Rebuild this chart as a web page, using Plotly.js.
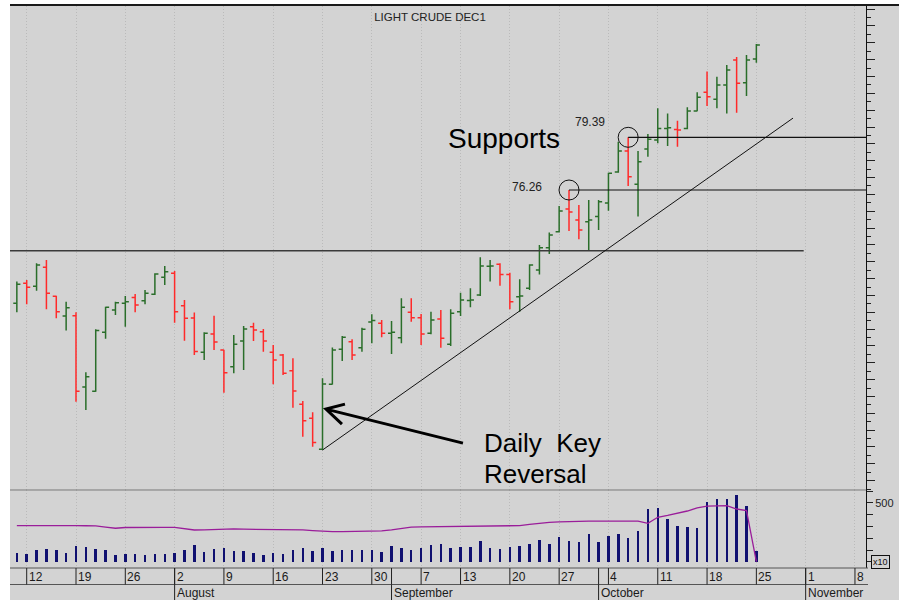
<!DOCTYPE html>
<html>
<head>
<meta charset="utf-8">
<script src="https://cdn.plot.ly/plotly-3.0.1.min.js"></script>
<style>
  html, body { margin: 0; padding: 0; background: #ffffff; }
  #chart { width: 899px; height: 600px; }
</style>
</head>
<body>
<div id="chart"></div>
<script>
// ---------------- DATA ----------------
const dates = [
  '2021-07-09',
  '2021-07-12','2021-07-13','2021-07-14','2021-07-15','2021-07-16',
  '2021-07-19','2021-07-20','2021-07-21','2021-07-22','2021-07-23',
  '2021-07-26','2021-07-27','2021-07-28','2021-07-29','2021-07-30',
  '2021-08-02','2021-08-03','2021-08-04','2021-08-05','2021-08-06',
  '2021-08-09','2021-08-10','2021-08-11','2021-08-12','2021-08-13',
  '2021-08-16','2021-08-17','2021-08-18','2021-08-19','2021-08-20',
  '2021-08-23','2021-08-24','2021-08-25','2021-08-26','2021-08-27',
  '2021-08-30','2021-08-31','2021-09-01','2021-09-02','2021-09-03',
  '2021-09-07','2021-09-08','2021-09-09','2021-09-10',
  '2021-09-13','2021-09-14','2021-09-15','2021-09-16','2021-09-17',
  '2021-09-20','2021-09-21','2021-09-22','2021-09-23','2021-09-24',
  '2021-09-27','2021-09-28','2021-09-29','2021-09-30','2021-10-01',
  '2021-10-04','2021-10-05','2021-10-06','2021-10-07','2021-10-08',
  '2021-10-11','2021-10-12','2021-10-13','2021-10-14','2021-10-15',
  '2021-10-18','2021-10-19','2021-10-20','2021-10-21','2021-10-22',
  '2021-10-25'
];
// trading days after the last bar (empty space on the axis)
const futureDays = ['2021-10-26','2021-10-27','2021-10-28','2021-10-29',
  '2021-11-01','2021-11-02','2021-11-03','2021-11-04','2021-11-05','2021-11-08'];

const open = [
  69.53,
  70.72,70.54,71.67,69.95,68.78,
  68.80,64.56,64.31,67.81,69.13,
  69.53,69.87,69.69,70.07,71.08,
  71.31,69.39,68.66,66.62,67.71,
  66.76,65.77,67.29,68.14,67.85,
  66.62,66.46,65.53,63.54,62.70,
  60.86,64.73,66.80,67.25,66.90,
  68.42,68.35,67.75,67.49,69.00,
  68.68,67.75,68.60,67.10,
  69.03,69.70,70.03,71.73,71.85,
  71.25,69.92,70.42,71.51,72.83,
  73.78,75.13,74.48,74.38,74.68,
  75.49,77.33,78.58,76.60,78.70,
  79.23,79.92,79.85,79.92,80.95,
  82.06,81.65,82.50,83.98,82.63,
  84.04
];
const high = [
  70.82,
  70.92,71.91,72.10,69.98,69.63,
  69.00,65.44,67.99,69.33,69.63,
  69.97,70.09,70.32,71.31,71.75,
  71.45,69.73,68.99,67.81,68.80,
  66.78,67.65,68.18,68.38,68.01,
  67.06,66.52,66.27,63.73,63.06,
  65.08,66.91,67.59,67.40,68.08,
  68.88,68.54,68.48,69.83,69.83,
  68.90,69.03,69.13,69.18,
  70.16,70.42,72.26,72.10,71.91,
  71.35,70.96,71.85,72.99,73.73,
  75.31,76.26,75.37,75.67,75.67,
  77.29,79.13,79.39,78.58,79.59,
  81.11,80.81,80.38,81.17,82.06,
  83.29,82.99,83.68,84.16,84.28,
  84.93
];
const low = [
  69.00,
  69.47,70.28,69.18,68.64,67.91,
  63.69,63.20,64.28,67.43,68.84,
  68.14,69.00,69.47,70.03,70.62,
  68.38,67.31,66.46,66.17,66.76,
  64.22,65.38,65.57,67.29,66.66,
  64.72,65.28,63.33,61.61,61.02,
  60.82,64.71,66.11,66.17,66.66,
  67.16,67.51,66.52,67.16,68.44,
  67.06,67.69,66.90,67.00,
  68.78,69.30,69.97,70.82,70.58,
  69.18,69.03,70.32,71.25,72.46,
  73.73,73.83,73.33,72.70,73.89,
  75.03,77.29,76.50,74.68,78.24,
  79.03,78.87,78.83,79.87,80.93,
  81.25,81.11,80.81,80.85,81.84,
  83.82
];
const close = [
  70.66,
  70.48,71.81,70.13,69.03,69.27,
  64.31,65.17,67.91,69.30,69.57,
  69.63,69.43,70.13,71.27,71.41,
  69.03,68.64,66.67,67.75,67.23,
  65.41,67.10,68.01,67.95,67.29,
  66.17,65.38,64.33,62.56,61.26,
  64.74,66.76,67.51,66.46,67.99,
  68.51,67.75,67.81,69.30,68.68,
  67.71,68.54,67.45,68.94,
  69.73,69.73,71.75,71.75,71.25,
  69.63,69.97,71.81,72.83,73.59,
  75.01,74.95,73.89,74.48,75.57,
  77.25,78.58,77.05,77.94,79.27,
  79.92,79.95,79.82,80.95,81.77,
  81.80,82.50,83.39,82.60,83.98,
  84.87
];
// volume (x10 contracts, as on the right scale)
const volume = [
  73,
  65,100,106,100,73,
  134,126,109,98,62,
  70,70,59,70,70,
  76,100,143,84,109,
  118,92,92,73,59,
  73,65,100,118,92,
  118,95,100,100,100,
  100,87,134,115,100,
  118,140,156,119,
  125,125,178,119,110,
  125,136,153,186,153,
  212,178,168,237,168,
  223,237,203,262,446,
  455,362,307,296,290,
  505,530,530,565,472,
  96
];
// open interest line (same panel scale)
const openInterest = [
  308,
  309,309,309,308,308,
  308,307,306,296,286,
  292,294,294,294,294,
  293,282,271,272,276,
  280,280,278,277,277,
  277,277,277,272,266,
  260,257,258,260,261,
  262,263,272,285,295,
  298,299,299,300,
  302,305,306,307,307,
  307,308,318,328,336,
  340,344,347,347,347,
  347,347,347,346,328,
  379,395,412,432,458,
  473,476,477,449,435,
  3
];

const weekTicks = ['2021-07-12','2021-07-19','2021-07-26','2021-08-02','2021-08-09',
  '2021-08-16','2021-08-23','2021-08-30','2021-09-07','2021-09-13','2021-09-20',
  '2021-09-27','2021-10-04','2021-10-11','2021-10-18','2021-10-25','2021-11-01','2021-11-08'];
const monthStarts = ['2021-08-02','2021-09-01','2021-10-01','2021-11-01'];
const monthNames = ['August','September','October','November'];

const chartTitle = 'LIGHT CRUDE DEC1';
const resistanceLevel = 72.66;
const supportLevels = [{date: '2021-09-28', price: 76.26, label: '76.26'},
                       {date: '2021-10-06', price: 79.39, label: '79.39'}];
const trendStart = {date: '2021-08-23', price: 60.82};
const trendEnd = {date: '2021-10-28', offset: 0.72, price: 80.53};

// ---------------- BUILD ----------------
const days = dates.concat(futureDays);
const ix = d => days.indexOf(d);
const xs = dates.map(ix);

const XR = [-0.694, 86.12];
const PRICE_DOM = [0.1388, 1];
const VOL_DOM = [0, 0.1388];
const FONT = 'Liberation Sans, Arial, Helvetica, sans-serif';
const BG = '#d3d3d3';

// paper-y for the date rows (plot bottom is at 568 px, plot height 562 px)
const py = p => (568 - p) / 562;
const pxp = p => (p - 10) / 856;

const traces = [
  {
    type: 'ohlc', x: xs, open: open, high: high, low: low, close: close,
    xaxis: 'x', yaxis: 'y',
    increasing: {line: {color: '#2a6e2a', width: 1.5}},
    decreasing: {line: {color: '#ff2a2a', width: 1.5}},
    tickwidth: 0.36, hoverinfo: 'skip', showlegend: false
  },
  {
    type: 'bar', x: xs, y: volume, xaxis: 'x', yaxis: 'y2',
    width: 0.25, marker: {color: '#101070', line: {width: 0}},
    hoverinfo: 'skip', showlegend: false
  },
  {
    type: 'scatter', mode: 'lines', x: xs, y: openInterest, xaxis: 'x', yaxis: 'y2',
    line: {color: '#9a1d9a', width: 1.3},
    hoverinfo: 'skip', showlegend: false
  }
];

const shapes = [];
// background panel
shapes.push({type: 'rect', xref: 'paper', yref: 'paper', layer: 'below',
  x0: 0, x1: pxp(899), y0: py(600), y1: py(4), fillcolor: BG, line: {width: 0}});
// top border
shapes.push({type: 'line', xref: 'paper', yref: 'paper', x0: 0, x1: pxp(899),
  y0: py(5), y1: py(5), line: {color: '#1a1a1a', width: 2}});
// separator between price and volume panels
shapes.push({type: 'line', xref: 'paper', yref: 'paper', x0: 0, x1: 1,
  y0: PRICE_DOM[0], y1: PRICE_DOM[0], line: {color: '#7a7a7a', width: 1}});
// date rows borders
shapes.push({type: 'line', xref: 'paper', yref: 'paper', x0: 0, x1: pxp(868),
  y0: 0, y1: 0, line: {color: '#555', width: 1}});
shapes.push({type: 'line', xref: 'paper', yref: 'paper', x0: 0, x1: pxp(868),
  y0: py(584.5), y1: py(584.5), line: {color: '#555', width: 1}});
// day separators
weekTicks.concat(monthStarts).forEach(d => {
  shapes.push({type: 'line', xref: 'x', yref: 'paper', x0: ix(d), x1: ix(d),
    y0: 0, y1: py(584.5), line: {color: '#222', width: 1}});
});
// month separators
monthStarts.forEach(d => {
  shapes.push({type: 'line', xref: 'x', yref: 'paper', x0: ix(d), x1: ix(d),
    y0: py(584.5), y1: py(600), line: {color: '#222', width: 1}});
});
// resistance line
shapes.push({type: 'line', xref: 'x', yref: 'y', x0: XR[0], x1: ix('2021-11-01') - 0.2,
  y0: resistanceLevel, y1: resistanceLevel, line: {color: '#3a3a3a', width: 1.5}});
// support lines + circles
supportLevels.forEach(s => {
  shapes.push({type: 'line', xref: 'x', yref: 'y', x0: ix(s.date), x1: XR[1],
    y0: s.price, y1: s.price, line: {color: '#111', width: 1.2}});
  shapes.push({type: 'circle', xref: 'x', yref: 'y', xsizemode: 'pixel', ysizemode: 'pixel',
    xanchor: ix(s.date), yanchor: s.price, x0: -10, x1: 10, y0: -10, y1: 10,
    line: {color: '#111', width: 1}});
});
// trend line
shapes.push({type: 'line', xref: 'x', yref: 'y',
  x0: ix(trendStart.date), y0: trendStart.price,
  x1: ix(trendEnd.date) + trendEnd.offset, y1: trendEnd.price,
  line: {color: '#111', width: 1}});
// arrow pointing to the key reversal bar
shapes.push({type: 'path', xref: 'x', yref: 'y', xsizemode: 'pixel', ysizemode: 'pixel',
  xanchor: ix(trendStart.date) + 0.35, yanchor: 63.25,
  path: 'M 137 -34 L 0 0 M 19 5 L 0 0 L 16 -15',
  line: {color: '#000', width: 3}});

const annotations = [];
weekTicks.forEach(d => {
  annotations.push({xref: 'x', yref: 'paper', x: ix(d), y: py(576.5), xanchor: 'left',
    yanchor: 'middle', xshift: 1, showarrow: false, borderpad: 0,
    text: String(parseInt(d.slice(8), 10)), font: {family: FONT, size: 12, color: '#1a1a1a'}});
});
monthStarts.forEach((d, i) => {
  annotations.push({xref: 'x', yref: 'paper', x: ix(d), y: py(593), xanchor: 'left',
    yanchor: 'middle', xshift: 1, showarrow: false, borderpad: 0,
    text: monthNames[i], font: {family: FONT, size: 12, color: '#1a1a1a'}});
});
annotations.push({xref: 'paper', yref: 'paper', x: pxp(543), y: py(187), xanchor: 'right',
  yanchor: 'middle', showarrow: false, borderpad: 0, text: supportLevels[0].label,
  font: {family: FONT, size: 12, color: '#222'}});
annotations.push({xref: 'paper', yref: 'paper', x: pxp(606), y: py(122), xanchor: 'right',
  yanchor: 'middle', showarrow: false, borderpad: 0, text: supportLevels[1].label,
  font: {family: FONT, size: 12, color: '#222'}});
annotations.push({xref: 'paper', yref: 'paper', x: pxp(447), y: py(138), xanchor: 'left',
  yanchor: 'middle', showarrow: false, borderpad: 0, text: 'Supports',
  font: {family: FONT, size: 28, color: '#000'}});
annotations.push({xref: 'paper', yref: 'paper', x: pxp(483), y: py(443), xanchor: 'left',
  yanchor: 'middle', showarrow: false, borderpad: 0, text: 'Daily\u00a0\u00a0Key',
  font: {family: FONT, size: 26, color: '#000'}});
annotations.push({xref: 'paper', yref: 'paper', x: pxp(483), y: py(474), xanchor: 'left',
  yanchor: 'middle', showarrow: false, borderpad: 0, text: 'Reversal',
  font: {family: FONT, size: 26, color: '#000'}});
annotations.push({xref: 'paper', yref: 'paper', x: pxp(871), y: py(562), xanchor: 'left',
  yanchor: 'middle', showarrow: false, borderpad: 1, borderwidth: 1, bordercolor: '#111',
  bgcolor: BG, text: 'x10', font: {family: FONT, size: 9, color: '#111'}});

const layout = {
  width: 899, height: 600,
  margin: {l: 10, r: 33, t: 6, b: 32, pad: 0},
  paper_bgcolor: '#ffffff', plot_bgcolor: BG,
  font: {family: FONT, color: '#222'},
  showlegend: false,
  title: {text: chartTitle, x: 430 / 899, xanchor: 'center', y: 1 - 17 / 600, yanchor: 'middle',
    font: {family: FONT, size: 11.5, color: '#222'}},
  bargap: 0,
  xaxis: {
    anchor: 'y2', range: XR, type: 'linear', fixedrange: true,
    tickmode: 'array', tickvals: weekTicks.map(ix), showticklabels: false, ticks: '',
    showgrid: true, gridcolor: '#bababa', griddash: '1px,2px', gridwidth: 1,
    zeroline: false, showline: false, rangeslider: {visible: false}
  },
  yaxis: {
    domain: PRICE_DOM, anchor: 'x', side: 'right', range: [58.446, 87.187], fixedrange: true,
    showline: true, linecolor: '#111', linewidth: 1, mirror: false,
    ticks: 'outside', tickmode: 'linear', tick0: 0, dtick: 1, ticklen: 8, tickcolor: '#222', tickwidth: 1,
    minor: {ticks: 'outside', dtick: 0.5, tick0: 0, ticklen: 4, tickcolor: '#222', showgrid: false},
    showticklabels: false, showgrid: false, zeroline: false
  },
  yaxis2: {
    domain: VOL_DOM, anchor: 'x', side: 'right', range: [-51, 610], fixedrange: true,
    showline: true, linecolor: '#111', linewidth: 1,
    ticks: 'outside', ticklen: 6, tickcolor: '#222', tickwidth: 1,
    tickmode: 'array', tickvals: [0, 100, 200, 300, 400, 500, 600],
    ticktext: ['', '', '', '', '', '500', ''],
    tickfont: {family: FONT, size: 11, color: '#222'},
    showgrid: false, zeroline: false
  },
  shapes: shapes,
  annotations: annotations
};

Plotly.newPlot('chart', traces, layout, {displayModeBar: false, staticPlot: true});
</script>
</body>
</html>
